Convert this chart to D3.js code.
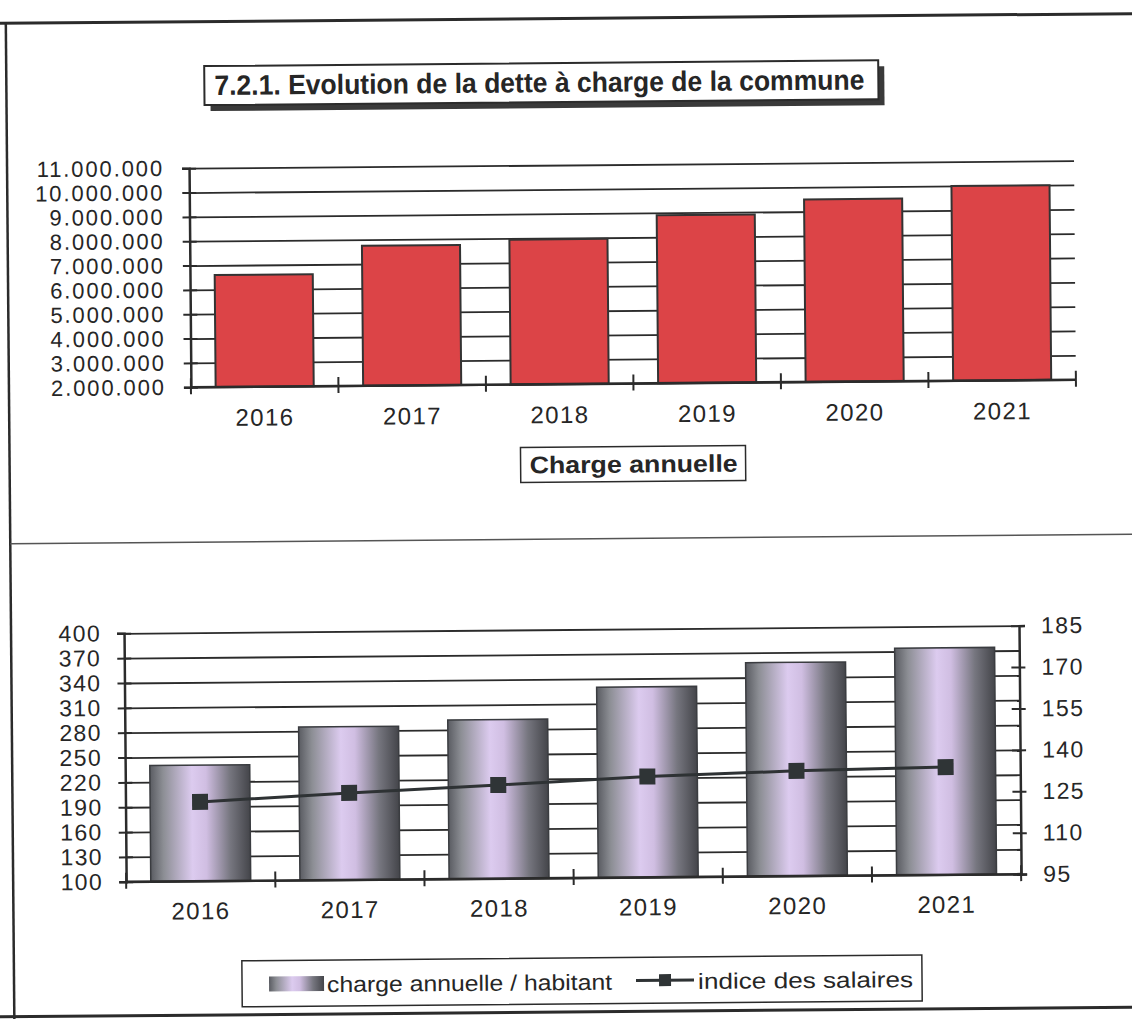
<!DOCTYPE html>
<html>
<head>
<meta charset="utf-8">
<script src="https://cdn.jsdelivr.net/npm/d3@7"></script>
<style>
  body { margin: 0; background: #fff; }
  text { font-family: "Liberation Sans", Arial, sans-serif; fill: #262626; }
</style>
</head>
<body>
<div id="page"></div>
<script>
// data
var years = ["2016", "2017", "2018", "2019", "2020", "2021"];
var chargeAnnuelle = [6600000, 7750000, 7950000, 8900000, 9500000, 10000000];
var chargeParHabitant = [240, 285, 292, 330, 358, 374];
var indiceSalaires = [123.7, 126.5, 128.9, 131.5, 133.1, 134.0];
var ticksTop = [2000000, 3000000, 4000000, 5000000, 6000000, 7000000, 8000000, 9000000, 10000000, 11000000];
var ticksLeft = [100, 130, 160, 190, 220, 250, 280, 310, 340, 370, 400];
var ticksRight = [95, 110, 125, 140, 155, 170, 185];

var W = 1132, H = 1019;
var ink = "#2b2b2b";

var svg = d3.select("#page").append("svg")
  .attr("width", W).attr("height", H);

var defs = svg.append("defs");
var grad = defs.append("linearGradient").attr("id", "cyl")
  .attr("x1", "0%").attr("x2", "100%").attr("y1", "0%").attr("y2", "0%");
[[0, "#5a5c62"], [0.13, "#8c8e94"], [0.42, "#dccbef"], [0.56, "#d0bee2"], [0.8, "#76767f"], [1, "#44454a"]]
  .forEach(function(s){ grad.append("stop").attr("offset", s[0]).attr("stop-color", s[1]); });

// the scan is a little tilted
var root = svg.append("g").attr("transform", "rotate(-0.49,566,510)");

// page frame
root.append("line").attr("x1", -10).attr("x2", W + 10).attr("y1", 18.5).attr("y2", 18.5)
  .attr("stroke", ink).attr("stroke-width", 3);
root.append("line").attr("x1", 10).attr("x2", 10).attr("y1", 18).attr("y2", H + 10)
  .attr("stroke", ink).attr("stroke-width", 2.5);
root.append("line").attr("x1", 10).attr("x2", W + 10).attr("y1", 539).attr("y2", 539)
  .attr("stroke", "#555").attr("stroke-width", 1.5);
root.append("line").attr("x1", -10).attr("x2", W + 10).attr("y1", 1012).attr("y2", 1012)
  .attr("stroke", ink).attr("stroke-width", 3);

// title box with shadow
root.append("rect").attr("x", 214).attr("y", 69).attr("width", 674).attr("height", 39).attr("fill", "#3a3a3a");
root.append("rect").attr("x", 208).attr("y", 63).attr("width", 674).attr("height", 39)
  .attr("fill", "#fff").attr("stroke", ink).attr("stroke-width", 2);
root.append("text").attr("x", 218).attr("y", 92)
  .attr("font-size", 28).attr("font-weight", "bold")
  .attr("textLength", 650).attr("lengthAdjust", "spacingAndGlyphs")
  .text("7.2.1. Evolution de la dette à charge de la commune");

var fmt = d3.formatLocale({decimal: ",", thousands: ".", grouping: [3], currency: ["", ""]}).format(",");

function styleAxis(g, size, spacing) {
  g.selectAll("path.domain").attr("stroke", ink).attr("stroke-width", 2.5);
  g.selectAll(".tick line").attr("stroke", ink).attr("stroke-width", 2);
  g.selectAll(".tick text").attr("font-size", size).attr("letter-spacing", spacing)
    .attr("fill", ink).style("font-family", "'Liberation Sans', Arial, sans-serif");
}

// ---------- top chart: charge annuelle ----------
var t = {left: 192, right: 1077, top: 165, bottom: 384};
var xTop = d3.scaleBand().domain(years).range([t.left, t.right]).paddingInner(0.335).paddingOuter(0.1675);
var yTop = d3.scaleLinear().domain([2000000, 11000000]).range([t.bottom, t.top]);

var gTop = root.append("g");
gTop.append("g").attr("transform", "translate(" + t.left + ",0)")
  .call(d3.axisLeft(yTop).tickValues(ticksTop).tickSize(-(t.right - t.left)).tickFormat(""))
  .call(function(g){
    g.select(".domain").remove();
    g.selectAll(".tick line").attr("stroke", ink).attr("stroke-width", 1.8);
  });

gTop.selectAll("rect.bar").data(chargeAnnuelle).enter().append("rect")
  .attr("class", "bar")
  .attr("x", function(d, i){ return xTop(years[i]); })
  .attr("y", function(d){ return yTop(d); })
  .attr("width", xTop.bandwidth())
  .attr("height", function(d){ return yTop(2000000) - yTop(d); })
  .attr("fill", "#dc4447").attr("stroke", "#333").attr("stroke-width", 2);

var yAxTop = gTop.append("g").attr("transform", "translate(" + t.left + ",0)")
  .call(d3.axisLeft(yTop).tickValues(ticksTop).tickSize(7).tickPadding(18).tickFormat(fmt));
yAxTop.selectAll(".tick line").attr("x1", 7);
styleAxis(yAxTop, 22, 1.9);

var stepTop = xTop.step();
var xAxTop = gTop.append("g").attr("transform", "translate(0," + t.bottom + ")")
  .call(d3.axisBottom(xTop).tickSize(0).tickPadding(22));
styleAxis(xAxTop, 24, 1.4);
xAxTop.select(".domain").attr("d", "M" + t.left + ",0H" + t.right);
xAxTop.selectAll(".bnd").data(d3.range(years.length + 1)).enter().append("line")
  .attr("x1", function(i){ return t.left + i * stepTop; })
  .attr("x2", function(i){ return t.left + i * stepTop; })
  .attr("y1", -9).attr("y2", 7).attr("stroke", ink).attr("stroke-width", 2);

// series name box
root.append("rect").attr("x", 521).attr("y", 447).attr("width", 225).attr("height", 35)
  .attr("fill", "#fff").attr("stroke", ink).attr("stroke-width", 1.5);
root.append("text").attr("x", 530).attr("y", 473)
  .attr("font-size", 24).attr("font-weight", "bold")
  .attr("textLength", 208).attr("lengthAdjust", "spacingAndGlyphs")
  .text("Charge annuelle");

// ---------- bottom chart: charge par habitant + indice ----------
var b = {left: 123, right: 1018, top: 629.5, bottom: 878};
var xBot = d3.scaleBand().domain(years).range([b.left, b.right]).paddingInner(0.33).paddingOuter(0.165);
var yL = d3.scaleLinear().domain([100, 400]).range([b.bottom, b.top]);
var yR = d3.scaleLinear().domain([95, 185]).range([b.bottom, b.top]);

var gBot = root.append("g");
gBot.append("g").attr("transform", "translate(" + b.left + ",0)")
  .call(d3.axisLeft(yL).tickValues(ticksLeft).tickSize(-(b.right - b.left)).tickFormat(""))
  .call(function(g){
    g.select(".domain").remove();
    g.selectAll(".tick line").attr("stroke", ink).attr("stroke-width", 1.8);
  });

gBot.selectAll("rect.bar").data(chargeParHabitant).enter().append("rect")
  .attr("class", "bar")
  .attr("x", function(d, i){ return xBot(years[i]); })
  .attr("y", function(d){ return yL(d); })
  .attr("width", xBot.bandwidth())
  .attr("height", function(d){ return yL(100) - yL(d); })
  .attr("fill", "url(#cyl)").attr("stroke", "#3a3c40").attr("stroke-width", 1.5);

var yAxL = gBot.append("g").attr("transform", "translate(" + b.left + ",0)")
  .call(d3.axisLeft(yL).tickValues(ticksLeft).tickSize(7).tickPadding(16));
yAxL.selectAll(".tick line").attr("x1", 7);
styleAxis(yAxL, 23, 1.4);

var yAxR = gBot.append("g").attr("transform", "translate(" + b.right + ",0)")
  .call(d3.axisRight(yR).tickValues(ticksRight).tickSize(6).tickPadding(16));
yAxR.selectAll(".tick line").attr("x1", -8);
styleAxis(yAxR, 23, 1.4);

var stepBot = xBot.step();
var xAxBot = gBot.append("g").attr("transform", "translate(0," + b.bottom + ")")
  .call(d3.axisBottom(xBot).tickSize(0).tickPadding(21));
styleAxis(xAxBot, 24, 1.4);
xAxBot.select(".domain").attr("d", "M" + b.left + ",0H" + b.right);
xAxBot.selectAll(".bnd").data(d3.range(years.length + 1)).enter().append("line")
  .attr("x1", function(i){ return b.left + i * stepBot; })
  .attr("x2", function(i){ return b.left + i * stepBot; })
  .attr("y1", -9).attr("y2", 7).attr("stroke", ink).attr("stroke-width", 2);

var cx = function(d, i){ return xBot(years[i]) + xBot.bandwidth() / 2; };
var line = d3.line().x(cx).y(function(d){ return yR(d); });
gBot.append("path").datum(indiceSalaires).attr("d", line)
  .attr("fill", "none").attr("stroke", "#2e3234").attr("stroke-width", 3);
gBot.selectAll("rect.mk").data(indiceSalaires).enter().append("rect")
  .attr("class", "mk")
  .attr("x", function(d, i){ return cx(d, i) - 8; })
  .attr("y", function(d){ return yR(d) - 8; })
  .attr("width", 16).attr("height", 16)
  .attr("fill", "#2f3436");

// legend
var lg = root.append("g");
lg.append("rect").attr("x", 238).attr("y", 958).attr("width", 680).attr("height", 46)
  .attr("fill", "#fff").attr("stroke", ink).attr("stroke-width", 1.5);
lg.append("rect").attr("x", 265).attr("y", 974).attr("width", 55).attr("height", 15)
  .attr("fill", "url(#cyl)");
lg.append("text").attr("x", 323).attr("y", 990).attr("font-size", 22)
  .attr("textLength", 285).attr("lengthAdjust", "spacingAndGlyphs")
  .text("charge annuelle / habitant");
lg.append("line").attr("x1", 632).attr("x2", 690).attr("y1", 981).attr("y2", 981)
  .attr("stroke", "#2e3234").attr("stroke-width", 3);
lg.append("rect").attr("x", 655).attr("y", 975).attr("width", 12).attr("height", 12).attr("fill", "#2f3436");
lg.append("text").attr("x", 694).attr("y", 990).attr("font-size", 22)
  .attr("textLength", 215).attr("lengthAdjust", "spacingAndGlyphs")
  .text("indice des salaires");
</script>
</body>
</html>
